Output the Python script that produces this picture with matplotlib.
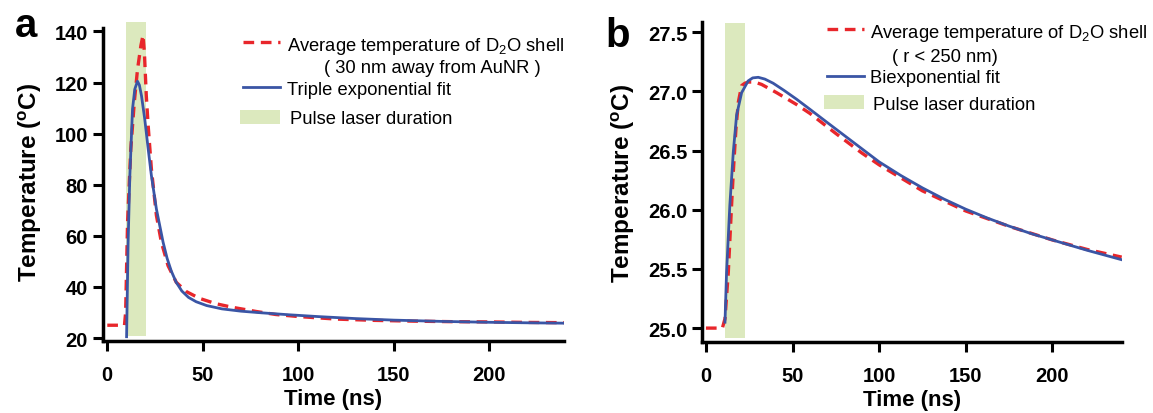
import numpy as np
import matplotlib
matplotlib.use("Agg")
import matplotlib.pyplot as plt
from matplotlib.lines import Line2D
from matplotlib.patches import Rectangle

plt.rcParams['font.family'] = ['Liberation Sans', 'DejaVu Sans']
plt.rcParams['mathtext.fontset'] = 'custom'
plt.rcParams['mathtext.rm'] = 'Liberation Sans'
plt.rcParams['mathtext.it'] = 'Liberation Sans:italic'
plt.rcParams['mathtext.bf'] = 'Liberation Sans:bold'

RED = '#E8262B'
BLUE = '#3A55A5'
GREEN = '#DCE9BE'

# panel a: shell 30 nm away from AuNR
a_sim_t = [0, 3, 6, 9, 9.6, 10.6, 12.3, 14.1, 15.8, 17.6, 18.7, 19.4, 20.4, 21.4,
           23.1, 25.7, 28.3, 31.8, 36.1, 41.3, 48.3, 57, 65.6, 77.8, 88.2, 100,
           120, 140, 160, 180, 200, 220, 240]
a_sim_T = [25, 25, 25, 25, 30, 65, 94, 112, 125, 134.5, 138.5, 132, 115, 103,
           86, 68, 57.5, 48.3, 41.8, 38.2, 35.5, 33.4, 32.0, 30.4, 29.2, 28.4,
           27.4, 26.9, 26.6, 26.4, 26.3, 26.1, 26.0]
a_fit_t = [10.1, 10.9, 11.8, 13.2, 14.4, 15.8, 16.8, 17.9, 19.6, 21.4, 23.1, 25.7,
           29.2, 31.3, 33.5, 36, 39, 42.5, 46.5, 52, 60, 70, 80, 95, 110, 130,
           150, 175, 200, 220, 240]
a_fit_T = [20.5, 57.5, 83.5, 109.6, 117.4, 120.5, 119, 114.8, 105.7, 94, 83.5,
           70.5, 57.5, 51.2, 46.2, 41.9, 38.4, 35.9, 34.2, 32.7, 31.4, 30.5,
           29.9, 29.1, 28.4, 27.6, 27.0, 26.5, 26.15, 25.95, 25.8]
a_pulse = (10, 20)

# panel b: shell r < 250 nm
b_sim_t = [0, 4, 8, 9.5, 11, 12.9, 14.8, 15.8, 17.3, 18.7, 20.6, 22.5, 24.4, 28,
           32.1, 40.8, 52.3, 60, 75, 90, 100, 125, 150, 175, 200, 220, 240]
b_sim_T = [25.0, 25.0, 25.0, 25.0, 25.08, 25.47, 26.04, 26.32, 26.68, 26.91,
           27.05, 27.07, 27.08, 27.08, 27.06, 26.99, 26.89, 26.815, 26.645,
           26.48, 26.38, 26.16, 25.99, 25.86, 25.745, 25.665, 25.60]
b_fit_t = [11, 11.9, 13.8, 15.8, 17.7, 20.6, 24.4, 27, 30.2, 34, 38.8, 45, 52.3,
           60, 70, 80, 90, 100, 112.5, 125, 137.5, 150, 162.5, 175, 187.5, 200,
           220, 240]
b_fit_T = [25.05, 25.47, 26.04, 26.49, 26.8, 26.99, 27.09, 27.115, 27.12, 27.105,
           27.07, 27.01, 26.935, 26.85, 26.738, 26.627, 26.516, 26.405, 26.29,
           26.185, 26.09, 26.005, 25.93, 25.862, 25.80, 25.745, 25.658, 25.578]
b_pulse = (11, 22.5)

W, H = 1153, 414


def px(x, y):
    # pixel position (from top-left) -> figure fraction
    return x / W, 1 - y / H


def style_axes(ax, xlim, ylim, yticks, ytop, fmt):
    ax.set_xlim(*xlim)
    ax.set_ylim(*ylim)
    for s in ['top', 'right']:
        ax.spines[s].set_visible(False)
    for s in ['left', 'bottom']:
        ax.spines[s].set_linewidth(2.5)
    ax.spines['left'].set_bounds(ylim[0], ytop)
    ax.set_xticks([0, 50, 100, 150, 200])
    ax.set_yticks(yticks)
    ax.set_yticklabels([fmt.format(v) for v in yticks])
    ax.tick_params(axis='both', length=7.5, width=2.2, labelsize=14.5)
    ax.tick_params(axis='x', pad=9.5)
    ax.tick_params(axis='y', pad=3)
    for lab in ax.get_xticklabels() + ax.get_yticklabels():
        lab.set_fontweight('bold')
    ax.set_xlabel('Time (ns)', fontsize=16, fontweight='bold', labelpad=3)
    ax.set_ylabel(r'Temperature ($\mathbf{^{o}}$C)', fontsize=17.5,
                  fontweight='bold', labelpad=8)


def legend(fig, x0, rows):
    # rows: (kind, y, text, text_x)
    for kind, y, text, tx in rows:
        if kind == 'red':
            fig.add_artist(Line2D([px(x0, y)[0], px(x0 + 37, y)[0]],
                                  [px(x0, y)[1]] * 2, color=RED, lw=2.4,
                                  dashes=(3.2, 2.0)))
        elif kind == 'blue':
            fig.add_artist(Line2D([px(x0, y)[0], px(x0 + 37, y)[0]],
                                  [px(x0, y)[1]] * 2, color=BLUE, lw=2.0))
        elif kind == 'green':
            x1, y1 = px(x0 - 3, y + 7)
            fig.add_artist(Rectangle((x1, y1), 40 / W, 14 / H,
                                     color=GREEN, lw=0))
        fig.text(*px(tx, y), text, fontsize=13.2, va='center_baseline',
                 ha='left')


fig = plt.figure(figsize=(W / 100, H / 100), dpi=100)

# ---- panel a ----
axa = fig.add_axes([102.7 / W, 72 / H, 461.3 / W, 319.3 / H])
axa.fill_between(a_pulse, 20.9, 143.8, color=GREEN, lw=0, zorder=1)
axa.plot(a_sim_t, a_sim_T, color=RED, lw=2.4, dashes=(3.2, 2.0), zorder=2)
axa.plot(a_fit_t, a_fit_T, color=BLUE, lw=2.0, zorder=3)
style_axes(axa, (-2.4, 239), (18.83, 143.8), [20, 40, 60, 80, 100, 120, 140],
           141.2, '{:d}')
legend(fig, 243, [('red', 43.3, 'Average temperature of D$_2$O shell', 286.7),
                  (None, 66.7, '( 30 nm away from AuNR )', 324),
                  ('blue', 88.3, 'Triple exponential fit', 286.7),
                  ('green', 118, 'Pulse laser duration', 290)])
fig.text(*px(15, 37), 'a', fontsize=29, fontweight='bold', va='baseline')

# ---- panel b ----
axb = fig.add_axes([702.3 / W, 70.7 / H, 419.4 / W, 320.6 / H])
axb.fill_between(b_pulse, 24.92, 27.58, color=GREEN, lw=0, zorder=1)
axb.plot(b_sim_t, b_sim_T, color=RED, lw=2.4, dashes=(3.2, 2.0), zorder=2)
axb.plot(b_fit_t, b_fit_T, color=BLUE, lw=2.0, zorder=3)
style_axes(axb, (-2.1, 240), (24.88, 27.59), [25.0, 25.5, 26.0, 26.5, 27.0, 27.5],
           27.59, '{:.1f}')
legend(fig, 826.7, [('red', 30, 'Average temperature of D$_2$O shell', 870),
                    (None, 55, '( r < 250 nm)', 891.7),
                    ('blue', 76.7, 'Biexponential fit', 870),
                    ('green', 103.3, 'Pulse laser duration', 872.7)])
fig.text(*px(605, 47), 'b', fontsize=29, fontweight='bold', va='baseline')

fig.savefig('out.png', dpi=100)
